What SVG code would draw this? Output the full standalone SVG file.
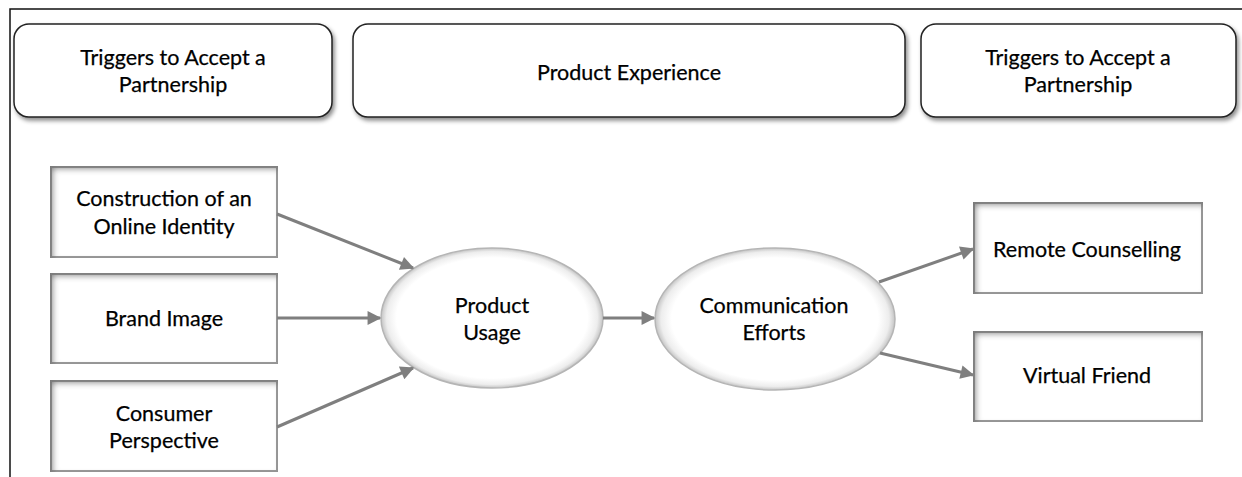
<svg xmlns="http://www.w3.org/2000/svg" width="1242" height="477" viewBox="0 0 1242 477">
<style>
text{font-family:Lato,"Open Sans","Liberation Sans",sans-serif;font-size:21.5px;fill:#000;stroke:#000;stroke-width:0.25;text-anchor:middle}
.top{fill:#fff;stroke:#222;stroke-width:1.5}
.box{fill:#fff;stroke:#9a9a9a;stroke-width:2}
.ell{fill:url(#eg);stroke:#b5b5b5;stroke-width:1.5}
.con{stroke:#7f7f7f;stroke-width:3;fill:none;marker-end:url(#ah)}
</style>
<defs>
<filter id="ds" x="-10%" y="-20%" width="130%" height="150%">
<feDropShadow dx="2" dy="3" stdDeviation="2" flood-color="#000" flood-opacity="0.45"/>
</filter>
<filter id="inset" x="-10%" y="-10%" width="120%" height="120%">
<feFlood flood-color="#777"/>
<feComposite in2="SourceAlpha" operator="out"/>
<feGaussianBlur stdDeviation="3"/>
<feOffset dx="3" dy="3"/>
<feComposite in2="SourceAlpha" operator="in"/>
<feMerge><feMergeNode in="SourceGraphic"/><feMergeNode/></feMerge>
</filter>
<radialGradient id="eg" cx="0.5" cy="0.5" r="0.5">
<stop offset="0.86" stop-color="#ffffff"/>
<stop offset="0.95" stop-color="#ededed"/>
<stop offset="1" stop-color="#c4c4c4"/>
</radialGradient>
<marker id="ah" viewBox="0 0 10 10" refX="9" refY="5" markerWidth="5.5" markerHeight="4.6" orient="auto" markerUnits="strokeWidth">
<path d="M0,0 L10,5 L0,10 z" fill="#7f7f7f"/>
</marker>
</defs>
<path d="M10,477 V9 H1242" fill="none" stroke="#111" stroke-width="1.5"/>
<g id="top1"><rect class="top" x="14" y="24" width="318" height="93" rx="15" filter="url(#ds)"/>
<text x="173" y="65">Triggers to Accept a</text><text x="173" y="92">Partnership</text></g>
<g id="top2"><rect class="top" x="353" y="24" width="552" height="93" rx="15" filter="url(#ds)"/>
<text x="629" y="80">Product Experience</text></g>
<g id="top3"><rect class="top" x="921" y="24" width="315" height="93" rx="15" filter="url(#ds)"/>
<text x="1078" y="65">Triggers to Accept a</text><text x="1078" y="92">Partnership</text></g>
<g id="n1"><rect class="box" x="51" y="167" width="226" height="90" filter="url(#inset)"/>
<text x="164" y="206">Construction of an</text><text x="164" y="234">Online Identity</text></g>
<g id="n2"><rect class="box" x="51" y="274" width="226" height="89" filter="url(#inset)"/>
<text x="164" y="326">Brand Image</text></g>
<g id="n3"><rect class="box" x="51" y="381" width="226" height="90" filter="url(#inset)"/>
<text x="164" y="421">Consumer</text><text x="164" y="448">Perspective</text></g>
<g id="pu"><ellipse class="ell" cx="492" cy="318" rx="111" ry="70"/>
<text x="492" y="313">Product</text><text x="492" y="340">Usage</text></g>
<g id="ce"><ellipse class="ell" cx="775" cy="319" rx="120" ry="71"/>
<text x="774" y="313">Communication</text><text x="774" y="340">Efforts</text></g>
<g id="rc"><rect class="box" x="974" y="203" width="228" height="90" filter="url(#inset)"/>
<text x="1087" y="257">Remote Counselling</text></g>
<g id="vf"><rect class="box" x="974" y="332" width="228" height="89" filter="url(#inset)"/>
<text x="1087" y="383">Virtual Friend</text></g>
<g id="connectors">
<line class="con" x1="277" y1="214" x2="413" y2="268"/>
<line class="con" x1="277" y1="318" x2="380" y2="318"/>
<line class="con" x1="277" y1="427" x2="413" y2="368"/>
<line class="con" x1="603" y1="318" x2="654" y2="318"/>
<line class="con" x1="879" y1="282" x2="973" y2="249"/>
<line class="con" x1="880" y1="353" x2="973" y2="375"/>
</g>
</svg>
